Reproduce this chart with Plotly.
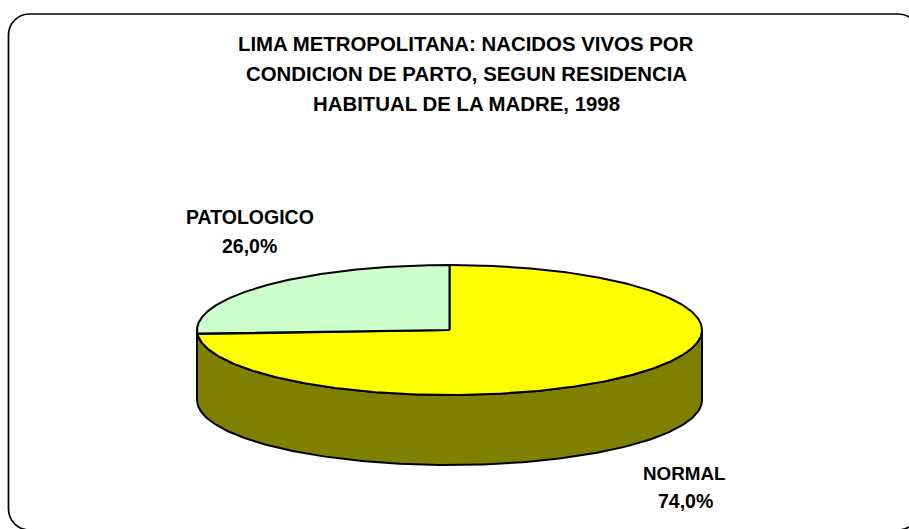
import numpy as np
import plotly.graph_objects as go

title_lines = ["LIMA METROPOLITANA: NACIDOS VIVOS POR",
               "CONDICION DE PARTO, SEGUN RESIDENCIA",
               "HABITUAL DE LA MADRE, 1998"]
categories = ["NORMAL", "PATOLOGICO"]
values = [74.0, 26.0]

W, H = 909, 529
CX, CY, RX, RY, DEPTH = 449.5, 330, 252.5, 65, 70
YELLOW, GREEN, SIDE = "#FFFF00", "#CCFFCC", "#808000"
FONT = "Liberation Sans"

def ell(a):
    return CX + RX*np.sin(a), CY - RY*np.cos(a)

share = values[1] / sum(values)
split = 2*np.pi*(1 - share)   # clockwise from 12 o'clock

fig = go.Figure()
LINE = dict(color="black", width=2)

# side wall: front half of rim extruded downward
a = np.linspace(np.pi/2, 3*np.pi/2, 200)
x, y = ell(a)
fig.add_trace(go.Scatter(x=np.r_[x, x[::-1], x[0]], y=np.r_[y, y[::-1]+DEPTH, y[0]],
                         mode="lines", fill="toself", fillcolor=SIDE, line=LINE, hoverinfo="skip"))

# NORMAL slice
a = np.linspace(0, split, 400)
x, y = ell(a)
fig.add_trace(go.Scatter(x=np.r_[CX, x, CX], y=np.r_[CY, y, CY], mode="lines", fill="toself",
                         fillcolor=YELLOW, line=LINE, name=categories[0], hoverinfo="skip"))
# PATOLOGICO slice
a = np.linspace(split, 2*np.pi, 200)
x, y = ell(a)
fig.add_trace(go.Scatter(x=np.r_[CX, x, CX], y=np.r_[CY, y, CY], mode="lines", fill="toself",
                         fillcolor=GREEN, line=LINE, name=categories[1], hoverinfo="skip"))

# rounded frame (right and bottom edges run past the window)
L, T, R, B, r = 8.5, 14, 919, 530, 21
k = r * 0.448
frame = (f"M{L+r},{T} L{R-r},{T} C{R-k},{T} {R},{T+k} {R},{T+r} L{R},{B-r} "
         f"C{R},{B-k} {R-k},{B} {R-r},{B} L{L+r},{B} C{L+k},{B} {L},{B-k} {L},{B-r} "
         f"L{L},{T+r} C{L},{T+k} {L+k},{T} {L+r},{T} Z")
fig.add_shape(type="path", path=frame, line=dict(color="black", width=1.7), layer="below")

def label(px, py, text, size):
    fig.add_annotation(x=px, y=py, text=text, showarrow=False, xanchor="center", yanchor="middle",
                       font=dict(family=FONT, size=size, color="black"))

for py, t in zip([44, 74, 104], title_lines):
    label(466, py, f"<b>{t}</b>", 20.4)

fmt = lambda v: f"{v:.1f}%".replace(".", ",")
label(250, 217, f"<b>{categories[1]}</b>", 19.5)
label(249.5, 246, f"<b>{fmt(values[1])}</b>", 19.5)
label(684, 473, f"<b>{categories[0]}</b>", 18.8)
label(685, 501, f"<b>{fmt(values[0])}</b>", 19.5)

fig.update_layout(width=W, height=H, margin=dict(l=0, r=0, t=0, b=0), showlegend=False,
                  paper_bgcolor="white", plot_bgcolor="white",
                  xaxis=dict(range=[0, W], visible=False, fixedrange=True),
                  yaxis=dict(range=[H, 0], visible=False, fixedrange=True))
fig.write_html("out.html", config={"displayModeBar": False},
               post_script="document.body.style.margin='0';document.body.style.overflow='hidden';")
